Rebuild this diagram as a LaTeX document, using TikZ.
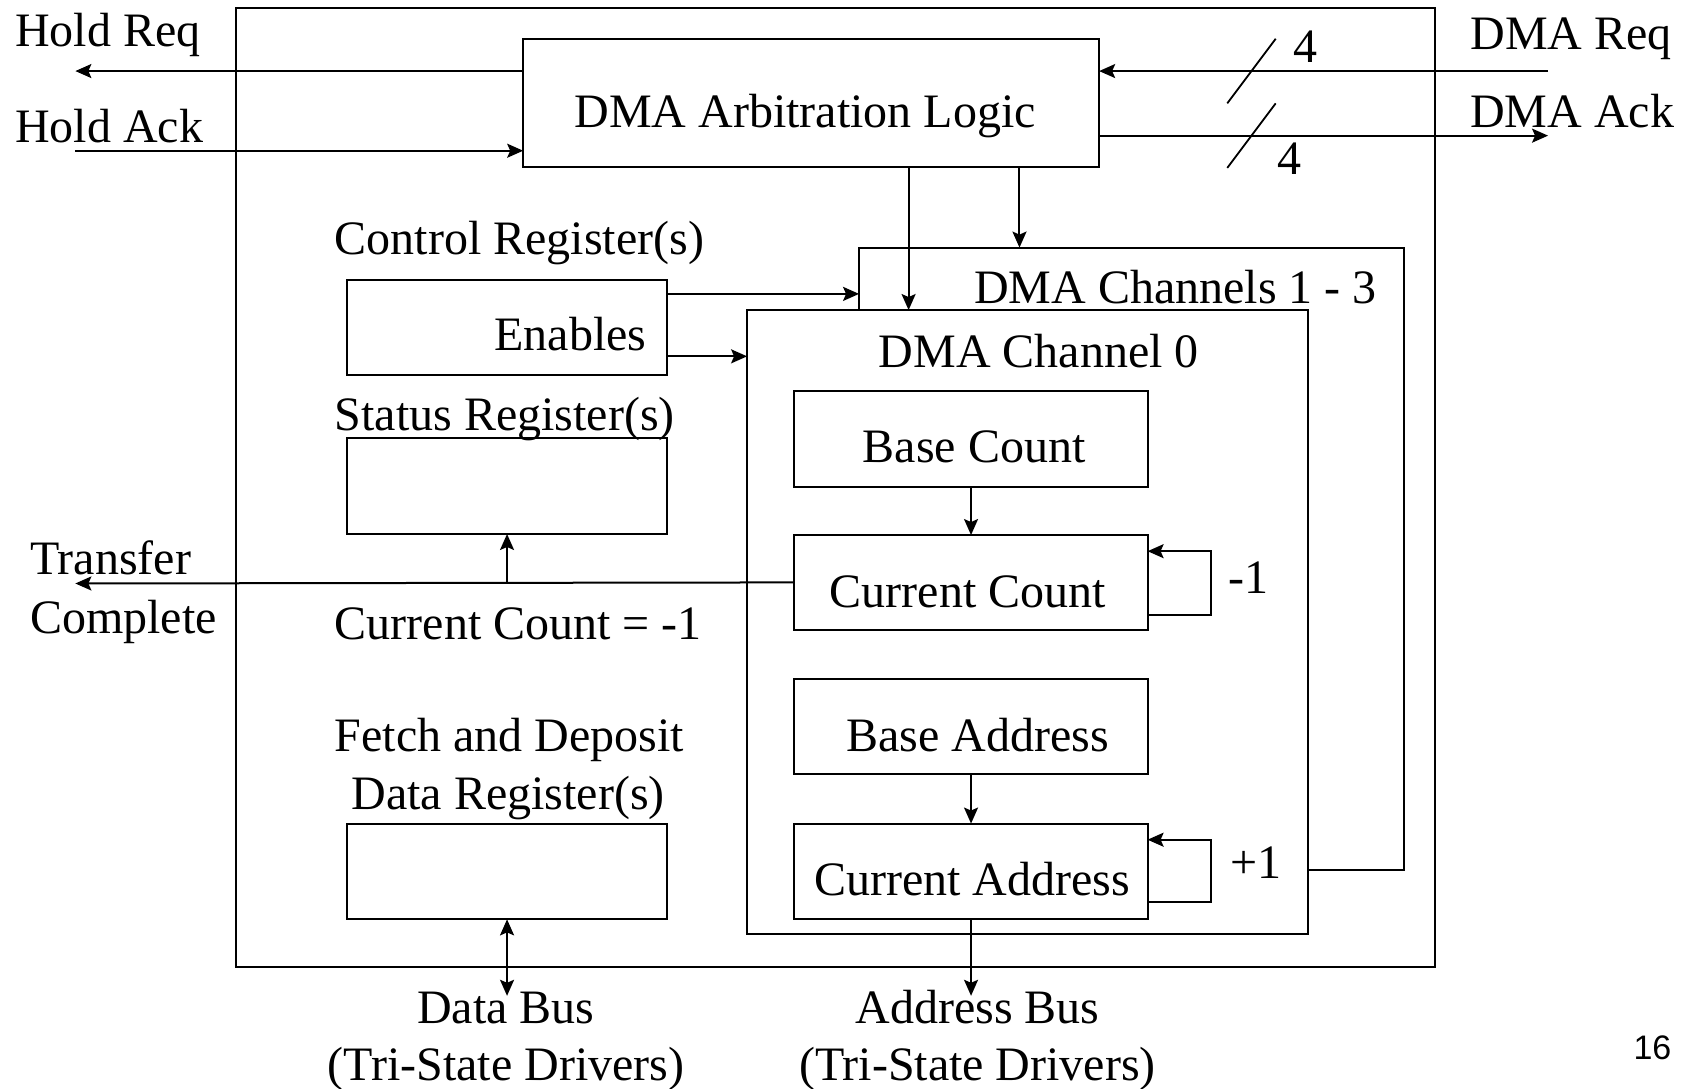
\documentclass[tikz,border=0pt]{standalone}
\usepackage{fontspec}
\setmainfont{Liberation Serif}
\setsansfont{Liberation Sans}
\usetikzlibrary{arrows.meta,fit}

\begin{document}
\begin{tikzpicture}[x=0.53827pt,y=-0.53827pt,
  every node/.style={inner sep=0pt, outer sep=0pt},
  blk/.style={draw, line width=1pt, inner sep=0pt, fill=white},
  lbl/.style={font=\fontsize{24}{28}\selectfont, anchor=base},
  wire/.style={line width=1pt},
  tip/.tip={Stealth[length=8pt,width=7pt,inset=1.5pt]},
  arr/.style={wire, -tip},
  darr/.style={wire, tip-tip},
  slash/.style={line width=0.9pt},
]
\useasboundingbox (0,0) rectangle (1568,1011);

% controller outline and blocks
\node[blk, fit={(219,7)(1333,898)}] (chip) {};
\node[blk, fit={(486,36)(1021,155)}] (arb) {};
\node[blk, fit={(798,230)(1304,808)}] (chan13) {};
\node[blk, fit={(694,288)(1215,868)}] (chan0) {};
\node[blk, fit={(738,363)(1066,452)}] (basecount) {};
\node[blk, fit={(738,497)(1066,585)}] (curcount) {};
\node[blk, fit={(738,631)(1066,719)}] (baseaddr) {};
\node[blk, fit={(738,765)(1066,854)}] (curaddr) {};
\node[blk, fit={(322,260)(620,348)}] (enables) {};
\node[blk, fit={(322,407)(620,496)}] (status) {};
\node[blk, fit={(322,765)(620,854)}] (datareg) {};

% texts
\node[lbl] (tArb) at (748,118) {DMA Arbitration Logic};
\node[lbl] (tCh13) at (1092,282) {DMA Channels 1 - 3};
\node[lbl] (tCh0) at (965,341) {DMA Channel 0};
\node[lbl] (tBC) at (905,430) {Base Count};
\node[lbl] (tCC) at (899,564) {Current Count};
\node[lbl] (tBA) at (908,698) {Base Address};
\node[lbl] (tCA) at (903,832) {Current Address};
\node[lbl] (tEn) at (530,326) {Enables};
\node[lbl, anchor=base west] (tCtl) at (311,236) {Control Register(s)};
\node[lbl, anchor=base west] (tSt) at (311,400) {Status Register(s)};
\node[lbl, anchor=base west] (tCCm) at (311,594) {Current Count = -1};
\node[lbl, anchor=base west] (tFetch) at (311,698) {Fetch and Deposit};
\node[lbl] (tDReg) at (472,752) {Data Register(s)};
\node[lbl, anchor=base west] (tHReq) at (14,43) {Hold Req};
\node[lbl, anchor=base west] (tHAck) at (14,132) {Hold Ack};
\node[lbl, anchor=base east] (tDReq) at (1553,46) {DMA Req};
\node[lbl, anchor=base east] (tDAck) at (1555,118) {DMA Ack};
\node[lbl, anchor=base west] (tTr) at (28,534) {Transfer};
\node[lbl, anchor=base west] (tCo) at (28,588) {Complete};
\node[lbl] (tFour1) at (1213,58) {4};
\node[lbl] (tFour2) at (1198,162) {4};
\node[lbl] (tM1) at (1160,551) {-1};
\node[lbl] (tP1) at (1167,816) {+1};
\node[lbl] (tDBus) at (470,951) {Data Bus};
\node[lbl] (tDTri) at (470,1004) {(Tri-State Drivers)};
\node[lbl] (tABus) at (908,951) {Address Bus};
\node[lbl] (tATri) at (908,1004) {(Tri-State Drivers)};
\node[font=\sffamily\fontsize{17}{20}\selectfont, anchor=base] (tPage) at (1535,984) {16};

% free ends and bends
\coordinate (holdreq) at (70,66);
\coordinate (holdack) at (70,140);
\coordinate (dmareq) at (1438,66);
\coordinate (dmaack) at (1438,126);
\coordinate (xA) at (844,0);
\coordinate (xB) at (947,0);
\coordinate (yEnA) at (0,273);
\coordinate (yEnB) at (0,331);
\coordinate (tc) at (70,542);
\coordinate (tcjoin) at (471,542);
\coordinate (dbus) at (471,925);
\coordinate (abus) at (902,925);
\coordinate (ccA) at (1125,571);
\coordinate (ccB) at (1125,512);
\coordinate (caA) at (1125,838);
\coordinate (caB) at (1125,780);

% handshake lines
\draw[arr] (arb.west |- holdreq) -- (holdreq);
\draw[arr] (holdack) -- (arb.west |- holdack);
\draw[arr] (dmareq) -- (arb.east |- dmareq);
\draw[arr] (arb.east |- dmaack) -- (dmaack);
\draw[slash] (1140,96) -- (1185,36);
\draw[slash] (1140,156) -- (1185,96);

% arbitration to channels
\draw[arr] (arb.south -| xA) -- (chan0.north -| xA);
\draw[arr] (arb.south -| xB) -- (chan13.north -| xB);

% enables
\draw[arr] (enables.east |- yEnA) -- (chan13.west |- yEnA);
\draw[arr] (enables.east |- yEnB) -- (chan0.west |- yEnB);

% count and address paths
\draw[arr] (basecount) -- (curcount);
\draw[arr] (baseaddr) -- (curaddr);
\draw[arr] (curcount.east |- ccA) -- (ccA) -- (ccB) -- (curcount.east |- ccB);
\draw[arr] (curaddr.east |- caA) -- (caA) -- (caB) -- (curaddr.east |- caB);

% terminal count
\draw[arr] (curcount.west) -- (tc);
\draw[arr] (tcjoin) -- (status.south);

% buses
\draw[darr] (datareg.south) -- (dbus);
\draw[arr] (curaddr.south) -- (abus);
\end{tikzpicture}
\end{document}
